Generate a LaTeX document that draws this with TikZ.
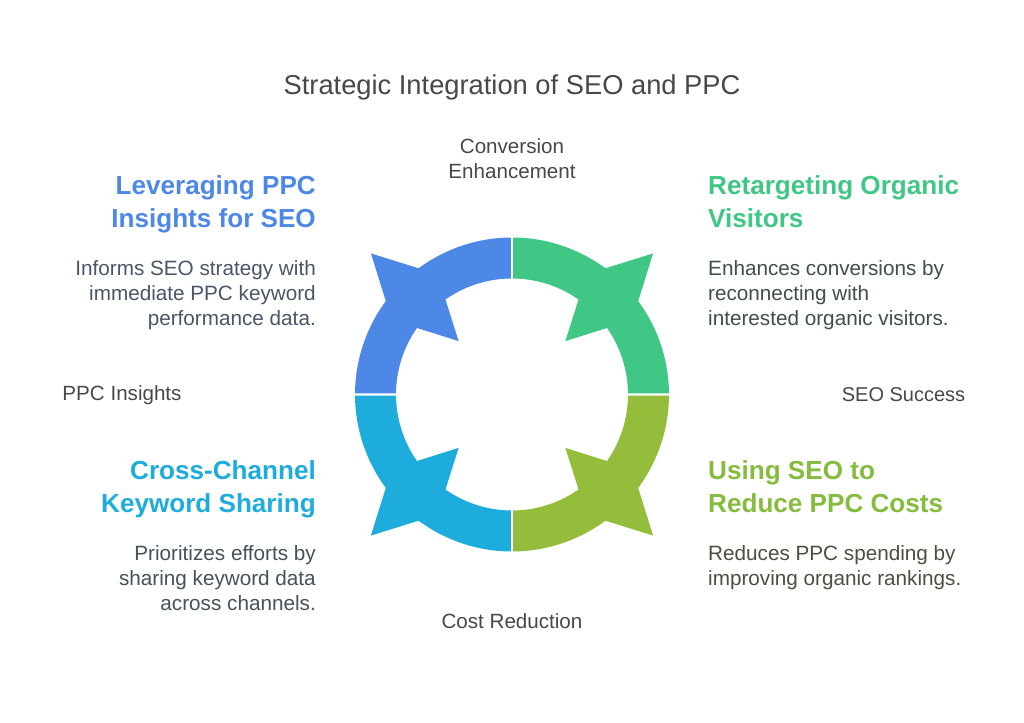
\documentclass[tikz,border=0pt]{standalone}
\usepackage{fontspec}
\setmainfont{Liberation Sans}
\definecolor{cblue}{HTML}{4E88E7}
\definecolor{cgreen}{HTML}{40C785}
\definecolor{colive}{HTML}{93BD3A}
\definecolor{ccyan}{HTML}{1EACDD}
\definecolor{holive}{HTML}{86BC3E}
\definecolor{ink}{HTML}{484848}
\definecolor{bodyblue}{HTML}{4A5568}
\definecolor{bodygreen}{HTML}{3F4F4A}
\definecolor{bodyolive}{HTML}{4A5040}
\definecolor{bodycyan}{HTML}{45525C}
\tikzset{
  x=1pt,y=1pt,
  titletext/.style={inner sep=0pt,text=ink,font=\fontsize{27.3}{32}\selectfont},
  labeltext/.style={inner sep=0pt,text=ink,align=center,font=\fontsize{20.6}{25}\selectfont},
  headR/.style={inner sep=0pt,anchor=north east,align=right,font=\fontsize{26.1}{33.5}\selectfont\bfseries},
  headL/.style={inner sep=0pt,anchor=north west,align=left,font=\fontsize{26.1}{33.5}\selectfont\bfseries},
  bodyR/.style={inner sep=0pt,anchor=north east,align=right,font=\fontsize{20.7}{25}\selectfont},
  bodyL/.style={inner sep=0pt,anchor=north west,align=left,font=\fontsize{20.7}{25}\selectfont},
}
\begin{document}
\begin{tikzpicture}
\useasboundingbox (0,0) rectangle (1024,722);
\fill[white] (0,0) rectangle (1024,722);
\begin{scope}[shift={(512,327.5)}]
\foreach \ang/\col in {0/cgreen,90/cblue,180/ccyan,270/colive}{
  \fill[\col,rotate=\ang]
    (89.56:157) arc[start angle=89.56,end angle=53.5,radius=157]
    -- (45:199.5) -- (36.5:157)
    arc[start angle=36.5,end angle=0.44,radius=157]
    -- (0.59:116) arc[start angle=0.59,end angle=35,radius=116]
    -- (45:75.5) -- (55:116)
    arc[start angle=55,end angle=89.41,radius=116] -- cycle;
}
\end{scope}
\node[titletext] (title) at (512,635) {Strategic Integration of SEO and PPC};
\node[labeltext] (conv) at (512,563) {Conversion\\Enhancement};
\node[labeltext] (ppc) at (122,327) {PPC Insights};
\node[labeltext,font=\fontsize{20}{25}\selectfont] (seo) at (903.5,327.5) {SEO Success};
\node[labeltext] (cost) at (512,101) {Cost Reduction};
\node[headR,text=cblue] (h1) at (316,547) {Leveraging PPC\\Insights for SEO};
\node[bodyR,text=bodyblue] (b1) at (316,462) {Informs SEO strategy with\\immediate PPC keyword\\performance data.};
\node[headL,text=cgreen] (h2) at (708,547) {Retargeting Organic\\Visitors};
\node[bodyL,text=bodygreen] (b2) at (708,462) {Enhances conversions by\\reconnecting with\\interested organic visitors.};
\node[headR,text=ccyan] (h3) at (316,262) {Cross-Channel\\Keyword Sharing};
\node[bodyR,text=bodycyan] (b3) at (316,177) {Prioritizes efforts by\\sharing keyword data\\across channels.};
\node[headL,text=holive] (h4) at (708,262) {Using SEO to\\Reduce PPC Costs};
\node[bodyL,text=bodyolive] (b4) at (708,177) {Reduces PPC spending by\\improving organic rankings.};
\end{tikzpicture}
\end{document}
